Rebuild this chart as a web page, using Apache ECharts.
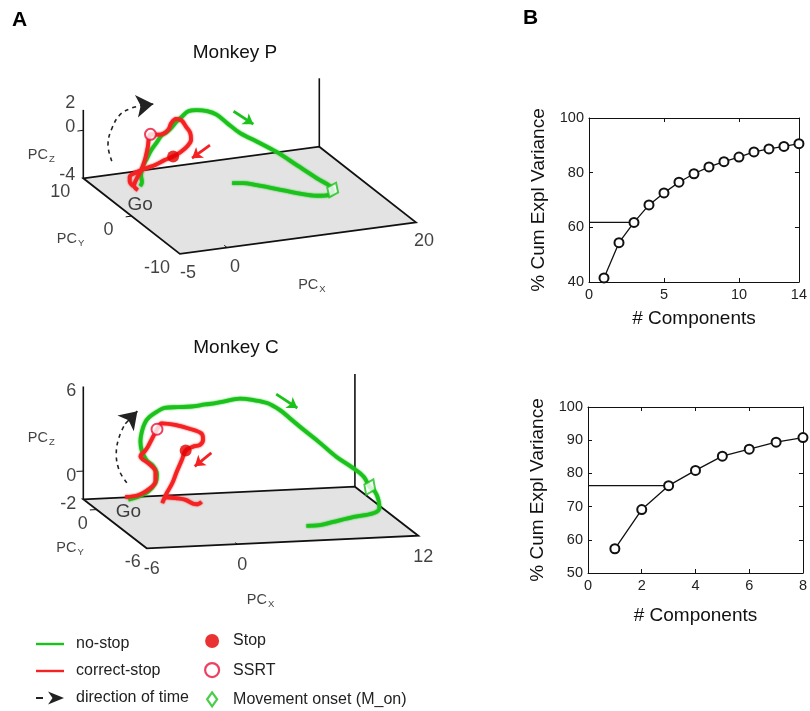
<!DOCTYPE html>
<html>
<head>
<meta charset="utf-8">
<script src="https://cdn.jsdelivr.net/npm/echarts@6/dist/echarts.min.js"></script>
<style>
  html, body { margin: 0; padding: 0; background: #fff; }
  #chart { width: 810px; height: 711px; }
</style>
</head>
<body>
<div id="chart"></div>
<script>
// ---- panel A data: trajectories as [PCx, PCy, PCz] ----
const pNoStop = [[-4.1,0,-1.6],[-3.9,0,-1.3],[-4.0,0,-0.7],[-3.8,0,0.0],[-3.4,0,0.6],[-2.9,0,1.3],[-2.3,0,1.9],
  [-1.8,0,2.4],[-1.3,0,2.6],[-0.8,0,2.9],[-0.2,0,3.4],[0.3,0,3.7],[1.0,0,4.1],[1.9,0,4.1],[3.0,0,3.9],[4.0,0,3.5],
  [5.1,0,2.7],[6.5,0,1.7],[8.3,0,0.8],[10.4,0,-0.3],[12.5,0,-1.6],[14.6,0,-2.9],[16.2,-0.2,-4],[15.4,-1.2,-4],
  [14.1,-1.0,-4],[12.6,0.2,-4],[11.3,1.7,-4],[9.9,3.2,-4],[8.9,4.1,-4],[7.9,4.4,-4]];
const pCorrectStop = [[-4.35,0,-1.9],[-4.75,0,-1.5],[-4.5,0,-1.0],[-4.0,0,-0.3],[-3.6,0,0.5],[-3.3,0,1.5],[-3.0,0,2.6],
  [-2.3,0,2.5],[-1.7,0,2.5],[-1.1,0,2.8],[-0.8,0,3.3],[-0.3,0,3.6],[0.3,0,3.4],[0.8,0,2.8],[1.2,0,2.3],[1.3,0,1.7],
  [0.9,0,1.2],[0.2,0,0.8],[-0.6,0,0.5],[-1.5,0,0.3],[-2.5,0,0.0],[-3.6,0,-0.2],[-4.5,0,-0.4],[-5.2,0,-0.7],
  [-5.2,0,-1.1],[-4.85,0,-1.5]];
const pStop = [-0.6,0,0.5];
const pSsrt = [-3.0,0,2.6];
const pMoveOn = [16.2,-0.2,-4];
const pArrowGreen = [[5.8,0,3.6],[7.9,0,2.3]];
const pArrowRed = [[3.3,0,1.05],[1.4,0,0.15]];
const pTime = [[-7.1,0,0.8],[-7.5,0,2.2],[-7.1,0,3.5],[-6.2,0,4.6],[-5.0,0,5.0],[-4.0,0,5.1]];
const pTimeHead = [[-4.0,0,5.1],[-2.7,0,5.1]];
const pTicksX = [-5, 0, 20], pTicksY = [10, 0, -10], pTicksZ = [-4, 0, 2];

const cNoStop = [[-3.9,0,-1.4],[-3.2,0,-1.2],[-2.6,0,-0.9],[-2.1,0,-0.3],[-2.0,0,0.3],[-2.25,0,0.9],[-2.7,0,1.35],
  [-3.0,0,2.0],[-3.1,0,2.7],[-3.0,0,3.4],[-2.8,0,4.0],[-2.5,0,4.4],[-2.0,0,4.75],[-1.5,0,5.0],[-0.6,0,5.0],[0.3,0,5.0],
  [1.2,0,5.1],[1.8,0,5.15],[2.4,0,5.25],[3.5,0,5.4],[4.4,0,5.25],[5.3,0,5.0],[6.15,0,4.45],[6.8,0,3.85],[7.7,0,3.0],
  [8.8,0,2.0],[9.9,0,0.95],[11.0,0,0.1],[11.7,0,-0.55],[12.1,0,-1.3],[12.45,0,-1.65],[12.4,-0.5,-2],[11.8,-1.7,-2],
  [11.0,-2.4,-2],[9.5,-2.8,-2],[7.8,-3.4,-2],[6.7,-3.8,-2],[5.8,-3.8,-2]];
const cCorrectStop = [[-4.1,0,-1.2],[-3.2,0,-1.1],[-2.5,0,-0.7],[-2.1,0,-0.2],[-2.1,0,0.5],[-2.5,0,1.05],[-3.1,0,1.65],
  [-2.8,0,2.0],[-2.6,0,2.3],[-2.25,0,3.0],[-2.0,0,3.5],[-1.7,0,3.9],[-0.8,0,3.75],[0.1,0,3.45],[0.95,0,3.05],
  [1.05,0,2.6],[0.85,0,2.25],[0.4,0,2.15],[-0.1,0,1.9],[-0.35,0,1.25],[-0.7,0,0.4],[-1.0,0,-0.4],[-1.35,0,-1.05],
  [-1.65,0,-1.75],[-1.4,0,-1.35],[-0.75,0,-1.45],[-0.1,0,-1.6],[0.4,0,-1.9],[0.7,0,-1.95],[0.95,0,-1.8]];
const cStop = [-0.1,0,1.9];
const cSsrt = [-2.0,0,3.5];
const cMoveOn = [12.1,0,-1.3];
const cArrowGreen = [[5.9,0,5.6],[7.3,0,4.55]];
const cArrowRed = [[1.6,0,1.65],[0.5,0,0.75]];
const cTime = [[-4.0,0,-0.2],[-4.5,0,0.7],[-4.7,0,1.9],[-4.5,0,3.1],[-4.1,0,4.0]];
const cTimeHead = [[-4.1,0,4.0],[-3.3,0,4.85]];
const cTicksX = [-6, 0, 12], cTicksY = [0, -6], cTicksZ = [-2, 0, 6];

// ---- panel B data ----
const compP = [1,2,3,4,5,6,7,8,9,10,11,12,13,14];
const cumVarP = [41.5,54.4,61.8,68.2,72.6,76.5,79.6,82.1,84.0,85.7,87.6,88.7,89.6,90.6];
const compC = [1,2,3,4,5,6,7,8];
const cumVarC = [57.3,69.1,76.3,80.9,85.2,87.3,89.4,90.8];
const keptP = 3, keptC = 3;

// ---- look ----
const FONT = "'Liberation Sans', Arial, Helvetica, sans-serif";
const GREEN = '#1cc21c', RED = '#f42222', INK = '#111', STOPRED = '#e40000', SSRTRED = '#ea1238';

// oblique views of the 3D boxes (pixel layout)
const viewP = {
  origin: [83.3, 178.3], x: [-5, 20], y: [10, -10], z: [-4, 1.7],
  ex: [9.44, -1.264], ey: [4.83, 3.78], ez: 12,
  xOff: [8, 19], yOff: [-23, 14], zOff: [-8, -3], goOff: [0, 19],
  nameX: [14, 47], nameY: [-61, 23], nameZ: [-42, 11], diamond: [12, 16]
};
const viewC = {
  origin: [83.3, 499.3], x: [-6, 12], y: [1.6, -6], z: [-2, 6],
  ex: [15.09, -0.70], ey: [8.34, 6.45], ez: 14.1,
  xOff: [5, 21], yOff: [-14, 14], zOff: [-7, 5], goOff: [0, 12],
  nameX: [-22, 58], nameY: [-45, 24], nameZ: [-42, -5], diamond: [12, 17]
};

function project(v, p) {
  const a = p[0] - v.x[0], b = v.y[0] - p[1], c = p[2] - v.z[0];
  return [v.origin[0] + v.ex[0] * a + v.ey[0] * b,
          v.origin[1] + v.ex[1] * a + v.ey[1] * b - v.ez * c];
}

const chart = echarts.init(document.getElementById('chart'));

function boxSeries(v) {
  return {
    type: 'custom', xAxisIndex: 0, yAxisIndex: 0, silent: true, z: 1, data: [0],
    renderItem: (params, api) => {
      const P = p => api.coord(project(v, p));
      const [x0, x1] = v.x, [yb, yf] = v.y, [z0, z1] = v.z;
      const bl = P([x0, yb, z0]), br = P([x1, yb, z0]), fr = P([x1, yf, z0]), fl = P([x0, yf, z0]);
      const line = (a, b, w) => ({ type: 'line', shape: { x1: a[0], y1: a[1], x2: b[0], y2: b[1] },
        style: { stroke: INK, lineWidth: w || 1.6 } });
      const kids = [
        { type: 'polygon', shape: { points: [bl, br, fr, fl] }, style: { fill: '#e3e3e3', stroke: INK, lineWidth: 1.8 } },
        line(bl, P([x0, yb, z1])),
        line(br, P([x1, yb, z1]))
      ];
      const tx = (x1 - x0) * 0.025, ty = (yb - yf) * 0.03;
      v.xTicks.filter(t => t > x0 && t < x1).forEach(t => kids.push(line(P([t, yf, z0]), P([t, yf + ty, z0]), 1)));
      v.yTicks.filter(t => t < yb && t > yf).forEach(t => kids.push(line(P([x0, t, z0]), P([x0 - tx, t, z0]), 1)));
      v.zTicks.filter(t => t > z0 && t < z1).forEach(t => kids.push(line(P([x0, yb, t]), P([x0 - tx, yb, t]), 1)));
      return { type: 'group', children: kids };
    }
  };
}

function labelSeries(v, go) {
  const data = [];
  const base = { fontSize: 18, color: INK };
  v.xTicks.forEach(t => data.push({ value: project(v, [t, v.y[1], v.z[0]]),
    label: Object.assign({ formatter: String(t), offset: v.xOff }, base) }));
  v.yTicks.forEach(t => data.push({ value: project(v, [v.x[0], t, v.z[0]]),
    label: Object.assign({ formatter: String(t), offset: v.yOff }, base) }));
  v.zTicks.forEach(t => data.push({ value: project(v, [v.x[0], v.y[0], t]),
    label: Object.assign({ formatter: String(t), offset: v.zOff, align: 'right' }, base) }));
  const xm = (v.x[0] + v.x[1]) / 2, ym = (v.y[0] + v.y[1]) / 2, zm = (v.z[0] + v.z[1]) / 2;
  const rich = { m: { fontSize: 14.5, color: INK }, s: { fontSize: 9.5, color: INK, padding: [9, 0, 0, 1] } };
  data.push({ value: project(v, [xm, v.y[1], v.z[0]]), label: { formatter: '{m|PC}{s|X}', rich, offset: v.nameX } });
  data.push({ value: project(v, [v.x[0], ym, v.z[0]]), label: { formatter: '{m|PC}{s|Y}', rich, offset: v.nameY } });
  data.push({ value: project(v, [v.x[0], v.y[0], zm]), label: { formatter: '{m|PC}{s|Z}', rich, offset: v.nameZ } });
  data.push({ value: project(v, go), label: { formatter: 'Go', fontSize: 19, color: INK, offset: v.goOff } });
  return {
    type: 'scatter', xAxisIndex: 0, yAxisIndex: 0, symbolSize: 0, silent: true, z: 5, data,
    label: { show: true, position: 'inside', fontFamily: FONT }
  };
}

viewP.xTicks = pTicksX; viewP.yTicks = pTicksY; viewP.zTicks = pTicksZ;
viewC.xTicks = cTicksX; viewC.yTicks = cTicksY; viewC.zTicks = cTicksZ;

const trace = (name, v, pts, color) => ({
  name, type: 'line', xAxisIndex: 0, yAxisIndex: 0, data: pts.map(p => project(v, p)),
  symbol: 'none', smooth: 0.35, clip: false, z: 2, silent: true,
  lineStyle: { color, width: 3.8, shadowBlur: 2, shadowColor: color }, itemStyle: { color }
});
const arrow = (name, v, seg, color, width, size) => ({
  name, type: 'lines', coordinateSystem: 'cartesian2d', xAxisIndex: 0, yAxisIndex: 0, z: 3, silent: true,
  symbol: ['none', 'arrow'], symbolSize: size,
  lineStyle: { color, width, opacity: 1 },
  data: [{ coords: seg.map(p => project(v, p)) }]
});
const timeCurve = (v, pts) => ({
  name: 'direction of time', type: 'line', xAxisIndex: 0, yAxisIndex: 0, symbol: 'none', smooth: 0.4,
  z: 3, silent: true, data: pts.map(p => project(v, p)),
  lineStyle: { color: '#222', width: 1.6, type: [4, 4] }, itemStyle: { color: '#222' }
});
const onset = v => ({
  name: 'Movement onset (M_on)', type: 'scatter', xAxisIndex: 0, yAxisIndex: 0, z: 4, silent: true,
  symbol: 'diamond', symbolSize: v.diamond, symbolRotate: -25,
  itemStyle: { color: '#fff', borderColor: GREEN, borderWidth: 2 },
  data: [project(v, v === viewP ? pMoveOn : cMoveOn)]
});

const series = [
  boxSeries(viewP), boxSeries(viewC),
  trace('no-stop', viewP, pNoStop, GREEN), trace('correct-stop', viewP, pCorrectStop, RED),
  trace('no-stop', viewC, cNoStop, GREEN), trace('correct-stop', viewC, cCorrectStop, RED),
  timeCurve(viewP, pTime), timeCurve(viewC, cTime),
  arrow('direction of time', viewP, pTimeHead, '#222', 1.6, 17),
  arrow('direction of time', viewC, cTimeHead, '#222', 1.6, 17),
  arrow('no-stop', viewP, pArrowGreen, GREEN, 2.8, 10), arrow('no-stop', viewC, cArrowGreen, GREEN, 2.8, 10),
  arrow('correct-stop', viewP, pArrowRed, RED, 2.8, 10), arrow('correct-stop', viewC, cArrowRed, RED, 2.8, 10),
  { name: 'Stop', type: 'scatter', xAxisIndex: 0, yAxisIndex: 0, z: 4, silent: true, symbol: 'circle', symbolSize: 12,
    itemStyle: { color: STOPRED }, data: [project(viewP, pStop), project(viewC, cStop)] },
  { name: 'SSRT', type: 'scatter', xAxisIndex: 0, yAxisIndex: 0, z: 4, silent: true, symbol: 'circle', symbolSize: 11,
    itemStyle: { color: '#fff', borderColor: SSRTRED, borderWidth: 2 }, data: [project(viewP, pSsrt), project(viewC, cSsrt)] },
  onset(viewP), onset(viewC),
  labelSeries(viewP, pNoStop[0]), labelSeries(viewC, cNoStop[0]),
  // panel B
  { type: 'line', xAxisIndex: 1, yAxisIndex: 1, symbol: 'none', silent: true,
    data: [[0, cumVarP[keptP - 1]], [keptP, cumVarP[keptP - 1]]], lineStyle: { color: INK, width: 1.3 } },
  { type: 'line', xAxisIndex: 1, yAxisIndex: 1, silent: true, symbol: 'emptyCircle', symbolSize: 9,
    data: compP.map((c, i) => [c, cumVarP[i]]), lineStyle: { color: INK, width: 1.3 },
    itemStyle: { color: INK, borderWidth: 1.3 } },
  { type: 'line', xAxisIndex: 3, yAxisIndex: 3, symbol: 'none', silent: true,
    data: [[0, cumVarC[keptC - 1]], [keptC, cumVarC[keptC - 1]]], lineStyle: { color: INK, width: 1.3 } },
  { type: 'line', xAxisIndex: 3, yAxisIndex: 3, silent: true, symbol: 'emptyCircle', symbolSize: 9,
    data: compC.map((c, i) => [c, cumVarC[i]]), lineStyle: { color: INK, width: 1.3 },
    itemStyle: { color: INK, borderWidth: 1.3 } }
];

const axisLine = { show: true, onZero: false, lineStyle: { color: INK, width: 1 } };
const tick = { show: true, inside: true, length: 4, lineStyle: { color: INK } };
const lbl = { fontSize: 14.5, color: '#222', fontFamily: FONT, margin: 5 };
const nameStyle = { fontSize: 19, color: '#111', fontFamily: FONT };
const bx = (grid, max, interval, pos, gap) => ({
  gridIndex: grid, type: 'value', min: 0, max, interval, position: pos,
  axisLine, axisTick: tick, splitLine: { show: false },
  axisLabel: pos === 'bottom' ? lbl : { show: false },
  name: pos === 'bottom' ? '# Components' : '', nameLocation: 'middle', nameGap: gap, nameTextStyle: nameStyle
});
const by = (grid, min, interval, pos) => ({
  gridIndex: grid, type: 'value', min, max: 100, interval, position: pos,
  axisLine, axisTick: tick, splitLine: { show: false },
  axisLabel: pos === 'left' ? lbl : { show: false },
  name: pos === 'left' ? '% Cum Expl Variance' : '', nameLocation: 'middle', nameGap: 41, nameTextStyle: nameStyle
});
const lineIcon = 'path://M0,0L28,0L28,2.4L0,2.4Z';

chart.setOption({
  animation: false,
  textStyle: { fontFamily: FONT },
  title: [
    { text: 'A', left: 12, top: 10, padding: 0, textStyle: { fontSize: 21, fontWeight: 'bold', color: '#000' } },
    { text: 'B', left: 523, top: 8, padding: 0, textStyle: { fontSize: 21, fontWeight: 'bold', color: '#000' } },
    { text: 'Monkey P', left: 235, textAlign: 'center', top: 43, padding: 0, textStyle: { fontSize: 19, fontWeight: 'normal', color: '#111' } },
    { text: 'Monkey C', left: 236, textAlign: 'center', top: 338, padding: 0, textStyle: { fontSize: 19, fontWeight: 'normal', color: '#111' } }
  ],
  legend: [
    { orient: 'vertical', left: 36, top: 636, height: 120, padding: 0, itemWidth: 28, itemHeight: 14, itemGap: 11,
      selectedMode: false,
      textStyle: { fontSize: 16, color: '#222', padding: [0, 0, 0, 7] },
      data: [
        { name: 'no-stop', icon: lineIcon, itemStyle: { color: GREEN, borderWidth: 0 } },
        { name: 'correct-stop', icon: lineIcon, itemStyle: { color: RED, borderWidth: 0 } },
        { name: 'direction of time', icon: 'path://M0,6L7,6L7,8L0,8Z M12,0.5L28,7L12,13.5L16.5,7Z',
          itemStyle: { color: '#222', borderWidth: 0 } }
      ] },
    { orient: 'vertical', left: 204, top: 633, height: 120, padding: 0, itemWidth: 14, itemHeight: 14, itemGap: 13,
      selectedMode: false,
      textStyle: { fontSize: 16, color: '#222', padding: [0, 0, 0, 9] },
      data: [
        { name: 'Stop', icon: 'circle', itemStyle: { color: STOPRED, borderWidth: 0 } },
        { name: 'SSRT', icon: 'circle', itemStyle: { color: '#fff', borderColor: SSRTRED, borderWidth: 2.2 } },
        { name: 'Movement onset (M_on)', icon: 'path://M5,0L10,7L5,14L0,7Z',
          itemStyle: { color: '#fff', borderColor: GREEN, borderWidth: 2.2 } }
      ] }
  ],
  grid: [
    { left: 0, top: 0, width: 810, height: 711 },
    { left: 589, top: 118, width: 216, height: 164 },
    { left: 588, top: 407, width: 216, height: 166 }
  ],
  xAxis: [
    { gridIndex: 0, type: 'value', min: 0, max: 810, show: false },
    bx(1, 14, 5, 'bottom', 27), bx(1, 14, 5, 'top', 27),
    bx(2, 8, 2, 'bottom', 33), bx(2, 8, 2, 'top', 33)
  ],
  yAxis: [
    { gridIndex: 0, type: 'value', min: 0, max: 711, inverse: true, show: false },
    by(1, 40, 20, 'left'), by(1, 40, 20, 'right'),
    by(2, 50, 10, 'left'), by(2, 50, 10, 'right')
  ],
  series
});
</script>
</body>
</html>
